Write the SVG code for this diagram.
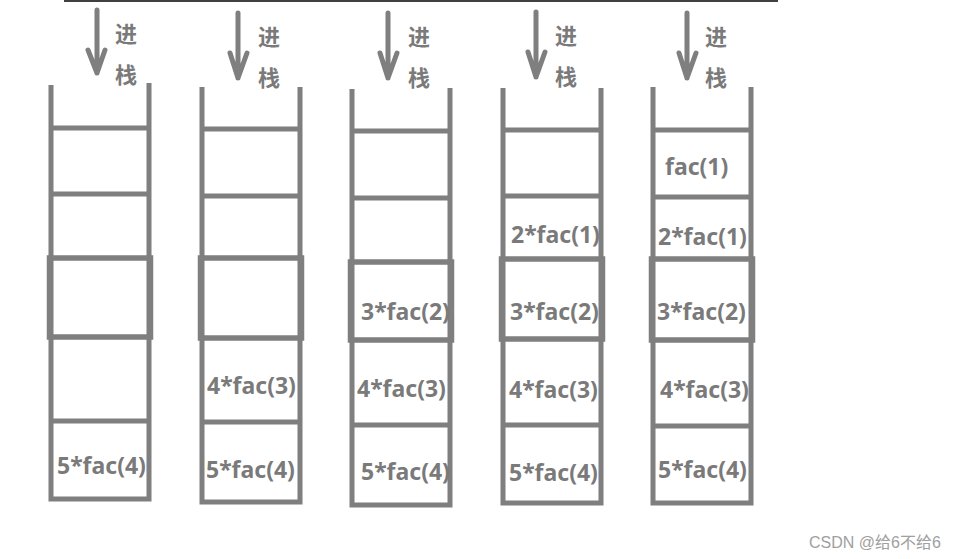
<svg xmlns="http://www.w3.org/2000/svg" width="958" height="559" viewBox="0 0 958 559">
<style>
.ln{stroke:#7f7f7f;stroke-width:5;fill:none}
.bx{stroke:#7f7f7f;stroke-width:5.5;fill:none}
.ar{stroke:#7f7f7f;stroke-width:5;fill:none;stroke-linecap:round;stroke-linejoin:round}
.t{font-family:"Noto Sans","Liberation Sans",sans-serif;font-weight:bold;font-size:23px;fill:#7a7a7a}
.c{font-family:"Noto Sans CJK SC",sans-serif;font-weight:bold;font-size:22px;fill:#7a7a7a;text-anchor:middle}
.w{font-family:"Liberation Sans","Noto Sans CJK SC",sans-serif;font-size:16px;fill:#a0a0a0}
</style>
<rect width="958" height="559" fill="#ffffff"/>
<line x1="64" y1="1" x2="778" y2="1" stroke="#000" stroke-width="1.5"/>

<g id="stack1">
<path class="ln" d="M51 85V499M149 83V499M48.5 499H151.5M51 128H149M51 194H149M51 421H149"/>
<rect class="bx" x="49.5" y="258" width="101" height="79"/>
<text class="t" x="57" y="474">5*fac(4)</text>
</g>
<g id="stack2">
<path class="ln" d="M202 87V502M300 87V502M199.5 502H302.5M202 129H300M202 196H300M202 422H300"/>
<rect class="bx" x="200.5" y="258" width="101" height="80"/>
<text class="t" x="207" y="394">4*fac(3)</text>
<text class="t" x="206" y="478">5*fac(4)</text>
</g>
<g id="stack3">
<path class="ln" d="M352 89V505M450 88V505M349.5 505H452.5M352 131H450M352 198H450M352 425H450"/>
<rect class="bx" x="350.5" y="262" width="101" height="78"/>
<text class="t" x="361" y="320">3*fac(2)</text>
<text class="t" x="357" y="397">4*fac(3)</text>
<text class="t" x="361" y="480">5*fac(4)</text>
</g>
<g id="stack4">
<path class="ln" d="M503 88V503M601 88V503M500.5 503H603.5M503 130H601M503 196H601M503 425H601"/>
<rect class="bx" x="501.5" y="259" width="101" height="80"/>
<text class="t" x="511" y="243">2*fac(1)</text>
<text class="t" x="510" y="320">3*fac(2)</text>
<text class="t" x="509" y="398">4*fac(3)</text>
<text class="t" x="509" y="481">5*fac(4)</text>
</g>
<g id="stack5">
<path class="ln" d="M653 87V503M751 87V503M650.5 503H753.5M653 130H751M653 197H751M653 426H751"/>
<rect class="bx" x="651.5" y="259" width="101" height="81"/>
<text class="t" x="665" y="175">fac(1)</text>
<text class="t" x="658" y="245">2*fac(1)</text>
<text class="t" x="657" y="320">3*fac(2)</text>
<text class="t" x="660" y="398">4*fac(3)</text>
<text class="t" x="658" y="478">5*fac(4)</text>
</g>

<g id="connectors">
<path class="ar" d="M97 10V73M88 50L97 73L105 50"/>
<path class="ar" d="M238 13V78M230 53L238 78L247 53"/>
<path class="ar" d="M388 13V78M380 53L388 78L397 53"/>
<path class="ar" d="M536 12V77M528 52L536 77L545 52"/>
<path class="ar" d="M687 13V78M679 53L687 78L696 53"/>
</g>

<g id="labels">
<text class="c" x="126" y="42">进</text><text class="c" x="126" y="83">栈</text>
<text class="c" x="269" y="45">进</text><text class="c" x="269" y="86">栈</text>
<text class="c" x="419" y="45">进</text><text class="c" x="419" y="86">栈</text>
<text class="c" x="566" y="44">进</text><text class="c" x="566" y="85">栈</text>
<text class="c" x="716" y="45">进</text><text class="c" x="716" y="86">栈</text>
</g>

<text class="w" x="809" y="548">CSDN @给6不给6</text>
</svg>
